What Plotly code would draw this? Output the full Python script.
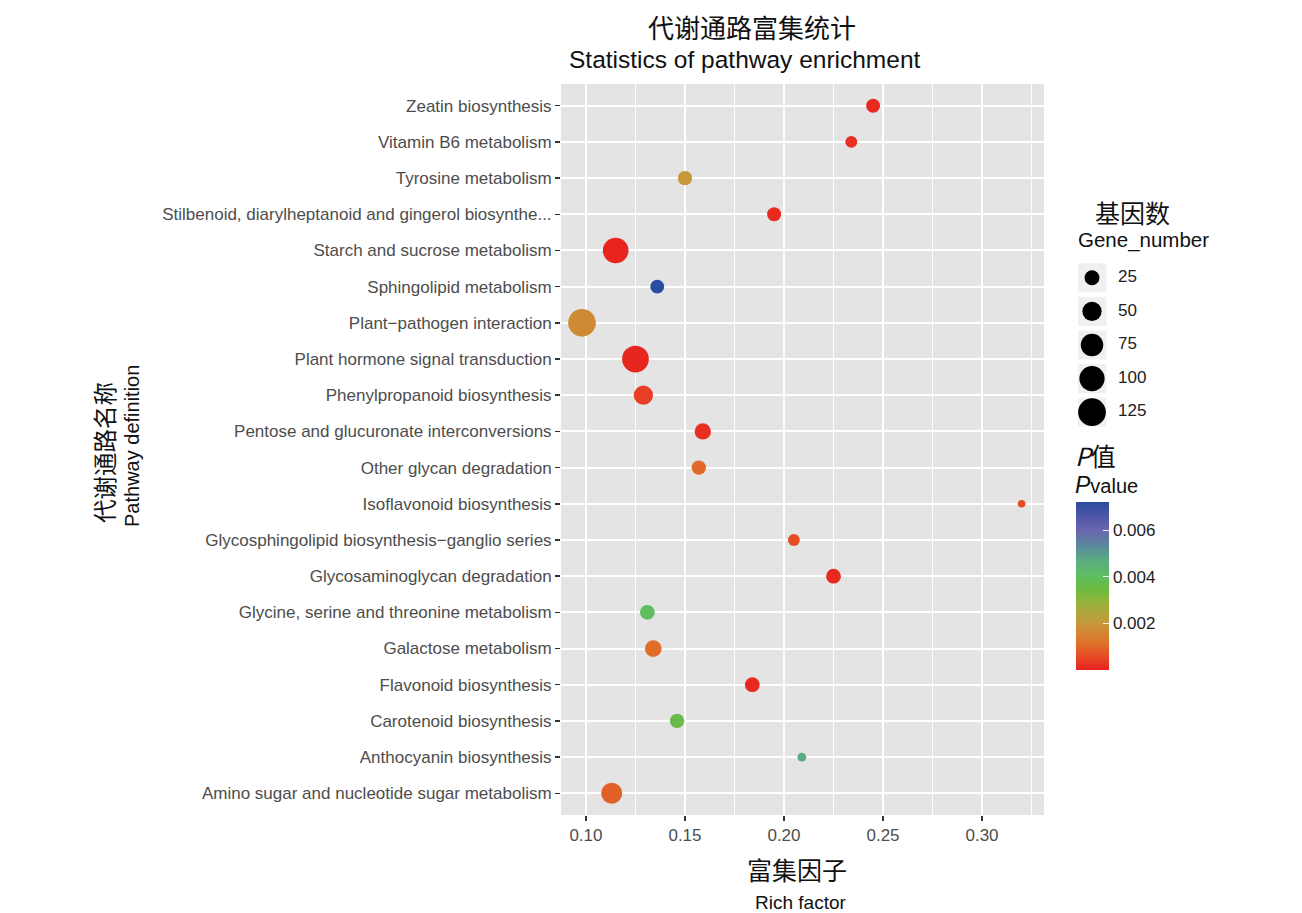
import numpy as np
import plotly.graph_objects as go

# ---------------- data (top -> bottom as displayed) ----------------
pathways = [
    "Zeatin biosynthesis",
    "Vitamin B6 metabolism",
    "Tyrosine metabolism",
    "Stilbenoid, diarylheptanoid and gingerol biosynthe...",
    "Starch and sucrose metabolism",
    "Sphingolipid metabolism",
    "Plant\u2212pathogen interaction",
    "Plant hormone signal transduction",
    "Phenylpropanoid biosynthesis",
    "Pentose and glucuronate interconversions",
    "Other glycan degradation",
    "Isoflavonoid biosynthesis",
    "Glycosphingolipid biosynthesis\u2212ganglio series",
    "Glycosaminoglycan degradation",
    "Glycine, serine and threonine metabolism",
    "Galactose metabolism",
    "Flavonoid biosynthesis",
    "Carotenoid biosynthesis",
    "Anthocyanin biosynthesis",
    "Amino sugar and nucleotide sugar metabolism",
]
rich_factor = [0.245, 0.234, 0.150, 0.195, 0.115, 0.136, 0.098, 0.125, 0.129, 0.159,
               0.157, 0.320, 0.205, 0.225, 0.131, 0.134, 0.184, 0.146, 0.209, 0.113]
gene_number = [20, 12, 22, 20, 104, 20, 125, 115, 50, 32,
               22, 2, 12, 24, 24, 34, 24, 22, 4, 63]
p_value = [0.0001, 0.0002, 0.0020, 0.0001, 0.00003, 0.0072, 0.0017, 0.00005, 0.0004, 0.0002,
           0.0010, 0.0006, 0.0006, 0.0001, 0.0040, 0.0011, 0.0001, 0.0036, 0.0047, 0.0009]

size_legend_values = [25, 50, 75, 100, 125]
x_ticks = [0.10, 0.15, 0.20, 0.25, 0.30]
p_ticks = [0.002, 0.004, 0.006]

# ---------------- styling helpers ----------------
OFF = 0                      # page body margin (set to 0 by post_script)
W, H = 1302 - 2 * OFF, 913 - 2 * OFF
PL, PR, PT, PB = 561, 1044, 84, 815  # panel in screen pixels (reference)


def px_x(px):
    return (px - PL) / (W + OFF - PL)


def px_y(py):
    return (PB - py) / (PB - PT)


def diam(n):
    return 4.75 + 2.05 * np.sqrt(np.asarray(n, dtype=float))


colorscale = [
    [0.00, "#E8221F"],
    [0.08, "#E64B26"],
    [0.16, "#DF7229"],
    [0.28, "#C6993A"],
    [0.40, "#96B33B"],
    [0.48, "#6BBA3F"],
    [0.56, "#5EBE62"],
    [0.66, "#5BA983"],
    [0.75, "#5C84A0"],
    [0.83, "#6A67AE"],
    [0.92, "#4D55A6"],
    [1.00, "#2B4FA0"],
]

FONT = "Liberation Sans, Arial, sans-serif"
CJK = "Noto Sans CJK SC"
DARK = "#111111"

fig = go.Figure()

fig.add_trace(go.Scatter(
    x=rich_factor,
    y=pathways,
    mode="markers",
    marker=dict(
        size=diam(gene_number),
        sizemode="diameter",
        color=p_value,
        colorscale=colorscale,
        cmin=0.0,
        cmax=max(p_value),
        opacity=1,
        line=dict(width=0),
        showscale=True,
        colorbar=dict(
            x=px_x(1076), xanchor="left", xpad=0,
            y=px_y(586), yanchor="middle", ypad=0,
            len=(670 - 502) / (PB - PT), lenmode="fraction",
            thickness=33, thicknessmode="pixels",
            outlinewidth=0,
            tickvals=p_ticks,
            ticktext=[f"{v:.3f}" for v in p_ticks],
            ticks="inside", ticklen=6, tickcolor="rgba(255,255,255,0.85)", tickwidth=1,
            tickfont=dict(family=FONT, size=17, color="#222222"),
            ticklabelposition="outside",
        ),
    ),
    showlegend=False,
    hoverinfo="skip",
))

# size legend (secondary axes)
leg_labels = [str(v) for v in size_legend_values]
fig.add_trace(go.Scatter(
    x=[14] * len(size_legend_values), y=leg_labels, mode="markers",
    marker=dict(symbol="square", size=29, color="#F0F0F0", line=dict(width=0)),
    xaxis="x2", yaxis="y2", showlegend=False, hoverinfo="skip",
))
fig.add_trace(go.Scatter(
    x=[14] * len(size_legend_values), y=leg_labels, mode="markers",
    marker=dict(size=diam(size_legend_values), color="#000000", opacity=1, line=dict(width=0)),
    xaxis="x2", yaxis="y2", showlegend=False, hoverinfo="skip",
))
fig.add_trace(go.Scatter(
    x=[40] * len(size_legend_values), y=leg_labels, mode="text",
    text=leg_labels, textposition="middle right",
    textfont=dict(family=FONT, size=17, color="#222222"),
    xaxis="x2", yaxis="y2", showlegend=False, hoverinfo="skip",
))

cat_order = list(reversed(pathways))

fig.update_layout(
    width=W, height=H,
    margin=dict(l=PL - OFF, r=0, t=PT - OFF, b=H - (PB - OFF), pad=0),
    paper_bgcolor="white",
    plot_bgcolor="white",
    font=dict(family=FONT, size=15, color="#4D4D4D"),
    hovermode=False,
    xaxis=dict(
        domain=[0, px_x(PR)],
        range=[0.0874, 0.3313],
        tickvals=x_ticks,
        ticktext=[f"{v:.2f}" for v in x_ticks],
        ticks="outside", ticklen=5, tickwidth=1.5, tickcolor="#333333",
        tickfont=dict(family=FONT, size=17, color="#4D4D4D"),
        showgrid=True, gridcolor="white", gridwidth=2,
        minor=dict(dtick=0.025, tick0=0.0, showgrid=True, gridcolor="white", gridwidth=1, ticks=""),
        zeroline=False, showline=False,
    ),
    yaxis=dict(
        type="category",
        categoryorder="array", categoryarray=cat_order,
        range=[-0.6, len(cat_order) - 0.4],
        ticks="outside", ticklen=5, tickwidth=1.5, tickcolor="#333333",
        tickfont=dict(family=FONT, size=17, color="#4D4D4D"),
        showgrid=True, gridcolor="white", gridwidth=2,
        zeroline=False, showline=False,
    ),
    xaxis2=dict(
        domain=[px_x(1078), px_x(1178)], range=[0, 100], anchor="y2",
        visible=False, fixedrange=True,
    ),
    yaxis2=dict(
        domain=[px_y(429), px_y(261)], type="category",
        categoryorder="array", categoryarray=list(reversed(leg_labels)),
        range=[-0.5, len(leg_labels) - 0.5], anchor="x2",
        visible=False, fixedrange=True,
    ),
)

# panel background (below gridlines)
fig.add_shape(type="rect", xref="x domain", yref="y domain", x0=0, x1=1, y0=0, y1=1,
              fillcolor="#E4E4E4", line=dict(width=0), layer="below")

ann = [
    dict(text="代谢通路富集统计", x=px_x(752), y=px_y(26), font=dict(family=CJK, size=26, color=DARK)),
    dict(text="Statistics of pathway enrichment", x=px_x(745), y=px_y(60), font=dict(family=FONT, size=24.5, color=DARK)),
    dict(text="富集因子", x=px_x(797), y=px_y(869), font=dict(family=CJK, size=25, color=DARK)),
    dict(text="Rich factor", x=px_x(800), y=px_y(902), font=dict(family=FONT, size=19, color=DARK)),
    dict(text="代谢通路名称", x=px_x(104), y=px_y(452), textangle=-90, font=dict(family=CJK, size=23.5, color=DARK)),
    dict(text="Pathway definition", x=px_x(132), y=px_y(446), textangle=-90, font=dict(family=FONT, size=20, color=DARK)),
    dict(text="基因数", x=px_x(1132), y=px_y(212), font=dict(family=CJK, size=25, color=DARK)),
    dict(text="Gene_number", x=px_x(1143), y=px_y(240), font=dict(family=FONT, size=20.5, color=DARK)),
]
for a in ann:
    fig.add_annotation(xref="paper", yref="paper", showarrow=False,
                       xanchor="center", yanchor="middle", **a)

fig.add_annotation(xref="paper", yref="paper", showarrow=False, xanchor="left", yanchor="middle",
                   x=px_x(1073), y=px_y(455),
                   text="<i>P</i>值", font=dict(family=CJK, size=25, color=DARK))
fig.add_annotation(xref="paper", yref="paper", showarrow=False, xanchor="left", yanchor="middle",
                   x=px_x(1073), y=px_y(485),
                   text="<i><span style='font-size:23px'>P</span></i>value", font=dict(family=FONT, size=20, color=DARK))

fig.write_html(
    "out.html",
    config={"displayModeBar": False, "staticPlot": True},
    post_script="document.body.style.margin='0px';document.body.style.overflow='hidden';",
)
